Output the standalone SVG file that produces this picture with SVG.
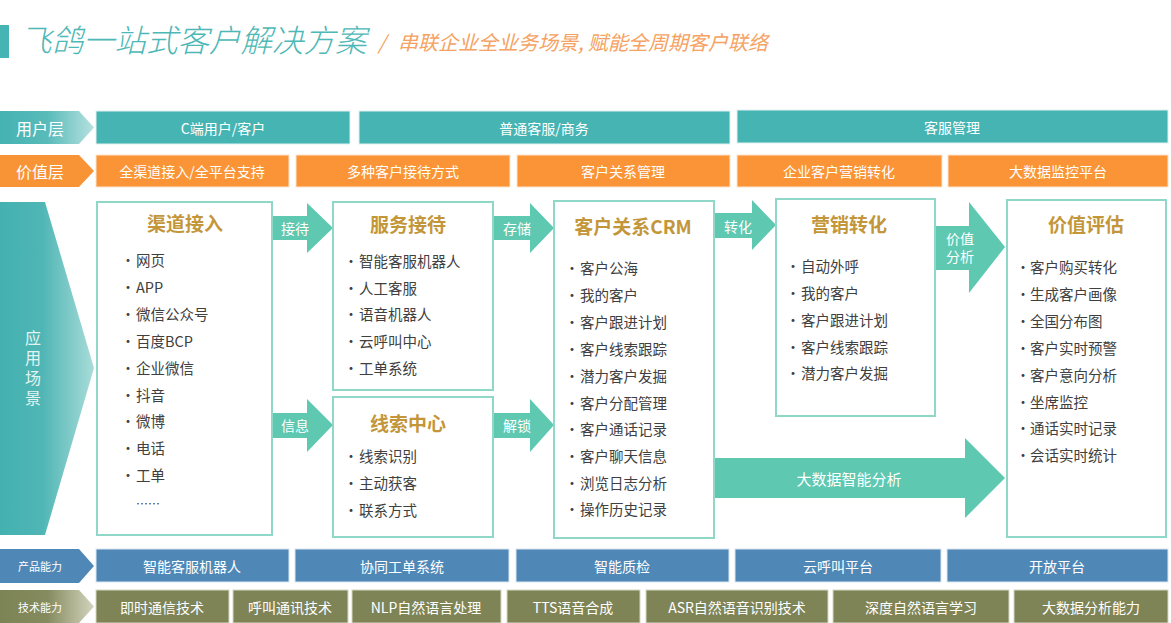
<svg xmlns="http://www.w3.org/2000/svg" width="1171" height="623" viewBox="0 0 1171 623">
<defs>
<linearGradient id="gTeal" x1="0" y1="0" x2="1" y2="0">
<stop offset="0" stop-color="#46b2b2"/><stop offset="0.5" stop-color="#58bbba"/><stop offset="1" stop-color="#b6e1df"/>
</linearGradient>
<linearGradient id="gBig" x1="0" y1="0" x2="1" y2="0">
<stop offset="0" stop-color="#44b1b1"/><stop offset="0.45" stop-color="#4fb6b5"/><stop offset="1" stop-color="#a9dcd9"/>
</linearGradient>
<linearGradient id="gOlive" x1="0" y1="0" x2="1" y2="0">
<stop offset="0" stop-color="#7c8354"/><stop offset="0.5" stop-color="#858b5e"/><stop offset="1" stop-color="#d2d4bd"/>
</linearGradient>
<style>
text{font-family:"Noto Sans CJK SC","Noto Sans",sans-serif;}
.rt{fill:#ffffff;font-size:14px;text-anchor:middle;dominant-baseline:central;}
.lt{fill:#ffffff;font-size:16px;text-anchor:middle;dominant-baseline:central;}
.st{fill:#ffffff;font-size:11px;text-anchor:middle;dominant-baseline:central;}
.teal{fill:#47b4b4;stroke:#dff0f0;stroke-width:1;}
.orng{fill:#fa9436;stroke:#fde3cc;stroke-width:1;}
.blue{fill:#4f88b7;stroke:#dbe6f0;stroke-width:1;}
.olv{fill:#7f8457;stroke:#d6d8c4;stroke-width:1;}
.box{fill:#ffffff;stroke:#8fd8c8;stroke-width:2;}
.ttl{fill:#c3963a;font-size:19px;font-weight:bold;text-anchor:middle;dominant-baseline:central;}
.it{fill:#404040;font-size:14.5px;dominant-baseline:central;}
.dot{fill:#404040;font-size:14px;text-anchor:middle;dominant-baseline:central;}
.arr{fill:#5ec8b1;}
.at{fill:#ffffff;font-size:14px;text-anchor:middle;dominant-baseline:central;}
</style>
</defs>

<g id="header">
<rect x="0" y="25" width="9" height="33" fill="#47b4b4"/>
<text x="20" y="52" font-size="31.5" font-style="italic" fill="#4db8b5" style="font-weight:300">飞鸽一站式客户解决方案</text>
<text x="378" y="50" font-size="20" font-style="italic" fill="#f5a262">/</text>
<text x="398" y="50" font-size="20" font-style="italic" fill="#f5a262">串联企业全业务场景, 赋能全周期客户联络</text>
</g>

<g id="row-user">
<polygon points="0,111 79,111 94,127.5 79,144 0,144" fill="url(#gTeal)"/>
<text class="lt" x="40" y="127.5">用户层</text>
<rect class="teal" x="96" y="111" width="254" height="33"/>
<text class="rt" x="223" y="127.5">C端用户/客户</text>
<rect class="teal" x="359" y="111" width="371" height="33"/>
<text class="rt" x="544" y="127.5">普通客服/商务</text>
<rect class="teal" x="737" y="110" width="431" height="33"/>
<text class="rt" x="952" y="126.5">客服管理</text>
</g>

<g id="row-value">
<polygon points="0,155 79,155 94,171 79,187 0,187" fill="#f99436"/>
<text class="lt" x="40" y="171">价值层</text>
<rect class="orng" x="96" y="155" width="193" height="32"/>
<text class="rt" x="192" y="171">全渠道接入/全平台支持</text>
<rect class="orng" x="296" y="155" width="214" height="32"/>
<text class="rt" x="403" y="171">多种客户接待方式</text>
<rect class="orng" x="517" y="155" width="213" height="32"/>
<text class="rt" x="623" y="171">客户关系管理</text>
<rect class="orng" x="737" y="155" width="205" height="32"/>
<text class="rt" x="839" y="171">企业客户营销转化</text>
<rect class="orng" x="948" y="155" width="220" height="32"/>
<text class="rt" x="1058" y="171">大数据监控平台</text>
</g>

<g id="scene-label">
<polygon points="0,202 45,202 94,368 45,535 0,535" fill="url(#gBig)"/>
<text x="33" y="330" font-size="16" fill="#e2f4f2" style="writing-mode:vertical-rl;letter-spacing:4px">应用场景</text>
</g>

<g id="connectors">
<polygon class="arr" points="272,216 307,216 307,203 333,228 307,253 307,240 272,240"/>
<text class="at" x="295" y="228">接待</text>
<polygon class="arr" points="272,413 307,413 307,399 333,425 307,452 307,438 272,438"/>
<text class="at" x="295" y="425">信息</text>
<polygon class="arr" points="493,216 530,216 530,203 554,228 530,253 530,240 493,240"/>
<text class="at" x="517" y="228">存储</text>
<polygon class="arr" points="493,413 530,413 530,399 554,425 530,452 530,438 493,438"/>
<text class="at" x="517" y="425">解锁</text>
<polygon class="arr" points="713,213 752,213 752,200 776,225 752,250 752,238 713,238"/>
<text class="at" x="738" y="226">转化</text>
<polygon class="arr" points="935,226 969,226 969,202 1005,247 969,293 969,270 935,270"/>
<text class="at" x="960" y="238">价值</text>
<text class="at" x="960" y="256">分析</text>
<polygon class="arr" points="714,458 965,458 965,438 1005,478 965,518 965,498 714,498"/>
<text class="at" x="849" y="478" style="font-size:15px">大数据智能分析</text>
</g>

<g id="node-channel">
<rect class="box" x="97" y="202" width="175" height="333"/>
<text class="ttl" x="185" y="222">渠道接入</text>
<g>
<text class="dot" x="128" y="259">·</text><text class="it" x="136" y="259">网页</text>
<text class="dot" x="128" y="286">·</text><text class="it" x="136" y="286">APP</text>
<text class="dot" x="128" y="313">·</text><text class="it" x="136" y="313">微信公众号</text>
<text class="dot" x="128" y="340">·</text><text class="it" x="136" y="340">百度BCP</text>
<text class="dot" x="128" y="367">·</text><text class="it" x="136" y="367">企业微信</text>
<text class="dot" x="128" y="394">·</text><text class="it" x="136" y="394">抖音</text>
<text class="dot" x="128" y="420">·</text><text class="it" x="136" y="420">微博</text>
<text class="dot" x="128" y="447">·</text><text class="it" x="136" y="447">电话</text>
<text class="dot" x="128" y="474">·</text><text class="it" x="136" y="474">工单</text>
<text class="it" x="136" y="503" style="font-size:12px">……</text>
</g>
</g>

<g id="node-service">
<rect class="box" x="333" y="202" width="160" height="188"/>
<text class="ttl" x="408" y="223">服务接待</text>
<text class="dot" x="351" y="260">·</text><text class="it" x="359" y="260">智能客服机器人</text>
<text class="dot" x="351" y="287">·</text><text class="it" x="359" y="287">人工客服</text>
<text class="dot" x="351" y="313">·</text><text class="it" x="359" y="313">语音机器人</text>
<text class="dot" x="351" y="340">·</text><text class="it" x="359" y="340">云呼叫中心</text>
<text class="dot" x="351" y="367">·</text><text class="it" x="359" y="367">工单系统</text>
</g>

<g id="node-leads">
<rect class="box" x="333" y="397" width="160" height="140"/>
<text class="ttl" x="408" y="422">线索中心</text>
<text class="dot" x="351" y="455">·</text><text class="it" x="359" y="455">线索识别</text>
<text class="dot" x="351" y="482">·</text><text class="it" x="359" y="482">主动获客</text>
<text class="dot" x="351" y="509">·</text><text class="it" x="359" y="509">联系方式</text>
</g>

<g id="node-crm">
<rect class="box" x="554" y="201" width="160" height="337"/>
<text class="ttl" x="633" y="225">客户关系CRM</text>
<text class="dot" x="572" y="267">·</text><text class="it" x="580" y="267">客户公海</text>
<text class="dot" x="572" y="294">·</text><text class="it" x="580" y="294">我的客户</text>
<text class="dot" x="572" y="321">·</text><text class="it" x="580" y="321">客户跟进计划</text>
<text class="dot" x="572" y="348">·</text><text class="it" x="580" y="348">客户线索跟踪</text>
<text class="dot" x="572" y="375">·</text><text class="it" x="580" y="375">潜力客户发掘</text>
<text class="dot" x="572" y="402">·</text><text class="it" x="580" y="402">客户分配管理</text>
<text class="dot" x="572" y="428">·</text><text class="it" x="580" y="428">客户通话记录</text>
<text class="dot" x="572" y="455">·</text><text class="it" x="580" y="455">客户聊天信息</text>
<text class="dot" x="572" y="482">·</text><text class="it" x="580" y="482">浏览日志分析</text>
<text class="dot" x="572" y="508">·</text><text class="it" x="580" y="508">操作历史记录</text>
</g>

<g id="node-marketing">
<rect class="box" x="776" y="199" width="159" height="217"/>
<text class="ttl" x="849" y="223">营销转化</text>
<text class="dot" x="793" y="265">·</text><text class="it" x="801" y="265">自动外呼</text>
<text class="dot" x="793" y="292">·</text><text class="it" x="801" y="292">我的客户</text>
<text class="dot" x="793" y="319">·</text><text class="it" x="801" y="319">客户跟进计划</text>
<text class="dot" x="793" y="346">·</text><text class="it" x="801" y="346">客户线索跟踪</text>
<text class="dot" x="793" y="372">·</text><text class="it" x="801" y="372">潜力客户发掘</text>
</g>

<g id="node-value">
<rect class="box" x="1007" y="200" width="159" height="337"/>
<text class="ttl" x="1086" y="223">价值评估</text>
<text class="dot" x="1023" y="266">·</text><text class="it" x="1030" y="266">客户购买转化</text>
<text class="dot" x="1023" y="293">·</text><text class="it" x="1030" y="293">生成客户画像</text>
<text class="dot" x="1023" y="320">·</text><text class="it" x="1030" y="320">全国分布图</text>
<text class="dot" x="1023" y="347">·</text><text class="it" x="1030" y="347">客户实时预警</text>
<text class="dot" x="1023" y="374">·</text><text class="it" x="1030" y="374">客户意向分析</text>
<text class="dot" x="1023" y="401">·</text><text class="it" x="1030" y="401">坐席监控</text>
<text class="dot" x="1023" y="427">·</text><text class="it" x="1030" y="427">通话实时记录</text>
<text class="dot" x="1023" y="454">·</text><text class="it" x="1030" y="454">会话实时统计</text>
</g>

<g id="row-product">
<polygon points="0,549 79,549 94,566 79,583 0,583" fill="#4f88b7"/>
<text class="st" x="40" y="566">产品能力</text>
<rect class="blue" x="96" y="549" width="193" height="33"/>
<text class="rt" x="192" y="566">智能客服机器人</text>
<rect class="blue" x="295" y="549" width="214" height="33"/>
<text class="rt" x="402" y="566">协同工单系统</text>
<rect class="blue" x="516" y="549" width="213" height="33"/>
<text class="rt" x="622" y="566">智能质检</text>
<rect class="blue" x="735" y="549" width="206" height="33"/>
<text class="rt" x="838" y="566">云呼叫平台</text>
<rect class="blue" x="947" y="549" width="221" height="33"/>
<text class="rt" x="1057" y="566">开放平台</text>
</g>

<g id="row-tech">
<polygon points="0,590 79,590 94,606.5 79,623 0,623" fill="url(#gOlive)"/>
<text class="st" x="40" y="606.5">技术能力</text>
<rect class="olv" x="96" y="590" width="133" height="33"/>
<text class="rt" x="162" y="606.5">即时通信技术</text>
<rect class="olv" x="233" y="590" width="115" height="33"/>
<text class="rt" x="290" y="606.5">呼叫通讯技术</text>
<rect class="olv" x="352" y="590" width="149" height="33"/>
<text class="rt" x="426" y="606.5">NLP自然语言处理</text>
<rect class="olv" x="507" y="590" width="133" height="33"/>
<text class="rt" x="573" y="606.5">TTS语音合成</text>
<rect class="olv" x="646" y="590" width="182" height="33"/>
<text class="rt" x="737" y="606.5">ASR自然语音识别技术</text>
<rect class="olv" x="833" y="590" width="176" height="33"/>
<text class="rt" x="921" y="606.5">深度自然语言学习</text>
<rect class="olv" x="1014" y="590" width="154" height="33"/>
<text class="rt" x="1091" y="606.5">大数据分析能力</text>
</g>
</svg>
